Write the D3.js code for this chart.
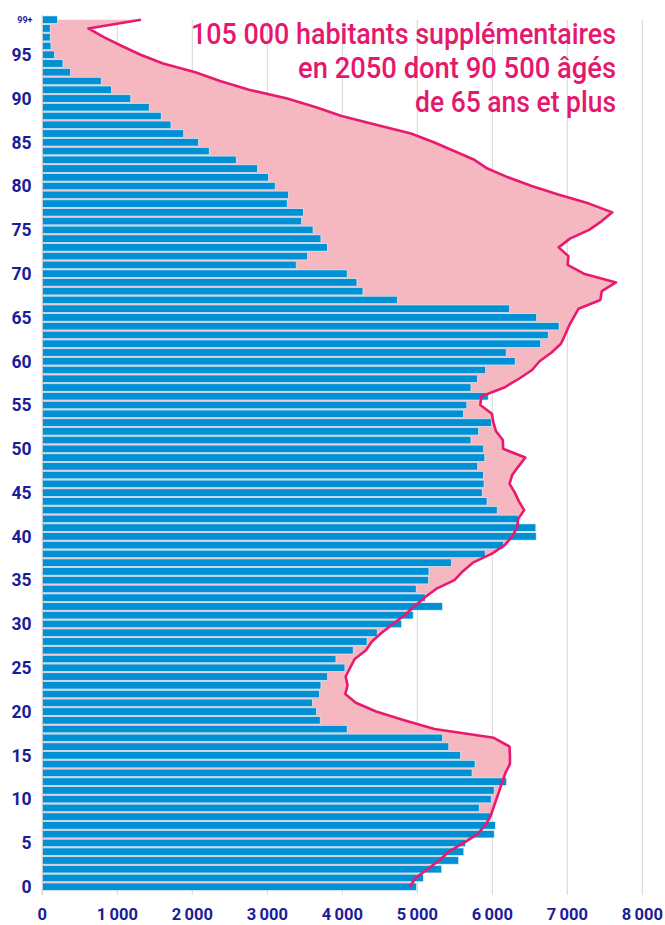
<!DOCTYPE html>
<html>
<head>
<meta charset="utf-8">
<script src="https://cdn.jsdelivr.net/npm/d3@7"></script>
<style>
  body { margin: 0; background: #fff; }
  svg { display: block; }
  text { font-family: Roboto, "Liberation Sans", sans-serif; }
</style>
</head>
<body>
<svg id="chart" width="665" height="925"></svg>
<script>
// ages 0..99 (99 = 99+)
var ages = d3.range(0, 100);

// population today (blue bars), age 0 -> 99+
var popNow = [
  4990, 5080, 5325, 5550, 5620, 5640, 6025, 6040, 5975, 5825,
  5985, 6025, 6190, 5730, 5770, 5575, 5420, 5335, 4065, 3705,
  3655, 3600, 3695, 3715, 3805, 4035, 3915, 4145, 4330, 4465,
  4790, 4945, 5335, 5105, 4985, 5150, 5155, 5455, 5905, 6150,
  6585, 6580, 6345, 6065, 5930, 5865, 5890, 5880, 5805, 5900,
  5885, 5715, 5815, 5990, 5615, 5660, 5945, 5715, 5800, 5910,
  6305, 6185, 6645, 6745, 6890, 6590, 6230, 4735, 4275, 4195,
  4065, 3385, 3535, 3800, 3715, 3610, 3455, 3480, 3265, 3280,
  3105, 3015, 2870, 2585, 2225, 2080, 1885, 1715, 1585, 1425,
  1180, 920, 785, 375, 275, 160, 115, 105, 105, 200
];

// projection 2050 (pink line), age 0 -> 99+
var pop2050 = [
  4900, 4975, 5135, 5290, 5420, 5620, 5800, 5905, 5975, 6015,
  6055, 6095, 6135, 6175, 6235, 6235, 6230, 6020, 5230, 4825,
  4450, 4180, 4040, 4070, 4045, 4105, 4165, 4315, 4395, 4525,
  4675, 4830, 4960, 5095, 5250, 5495, 5605, 5740, 5990, 6165,
  6265, 6330, 6345, 6425, 6355, 6300, 6230, 6265, 6350, 6440,
  6145, 6140, 6050, 6015, 5995, 5840, 5855, 6160, 6355, 6530,
  6630, 6790, 6915, 6970, 7020, 7085, 7150, 7440, 7460, 7650,
  7220, 7005, 7015, 6885, 7035, 7290, 7460, 7600, 7290, 6890,
  6525, 6210, 5935, 5760, 5490, 5220, 4915, 4450, 3990, 3650,
  3265, 2755, 2370, 2040, 1610, 1310, 1060, 820, 615, 1315
];

var xTicks = [0, 1000, 2000, 3000, 4000, 5000, 6000, 7000, 8000];
var yTicks = [0, 5, 10, 15, 20, 25, 30, 35, 40, 45, 50, 55, 60, 65, 70, 75, 80, 85, 90, 95];

var titleLines = ['105 000 habitants supplémentaires', 'en 2050 dont 90 500 âgés', 'de 65 ans et plus'];

var svg = d3.select('#chart');

var x = d3.scaleLinear().domain([0, 8000]).range([42.3, 642.3]);
var y = d3.scaleBand().domain(ages).range([891.1, 15.3])
  .paddingInner(0.15).paddingOuter(0.075);
var bw = y.bandwidth();
function yc(a){ return y(a) + bw / 2; }

//grid lines
svg.append('g').attr('class', 'grid')
  .selectAll('line')
  .data(xTicks.slice(1))
  .enter().append('line')
  .attr('x1', d => x(d)).attr('x2', d => x(d))
  .attr('y1', 20).attr('y2', 895)
  .attr('stroke', '#d6d6d6')
  .attr('stroke-width', 1);

//pink area up to the 2050 line
var area = d3.area()
  .x0(x(0))
  .x1((d, i) => x(pop2050[i]))
  .y((d, i) => yc(d));
svg.append('path')
  .datum(ages)
  .attr('d', area)
  .attr('fill', '#f5b8c1');

//bars
svg.append('g').attr('class', 'bars')
  .selectAll('rect')
  .data(ages)
  .enter().append('rect')
  .attr('x', x(0))
  .attr('y', d => y(d))
  .attr('width', d => x(popNow[d]) - x(0))
  .attr('height', bw)
  .attr('fill', '#0090d4')
  .attr('stroke', '#e6f3fa')
  .attr('stroke-width', 0.6);

//axis line
svg.append('line')
  .attr('x1', x(0)).attr('x2', x(0))
  .attr('y1', 15).attr('y2', 895)
  .attr('stroke', '#cfcfcf')
  .attr('stroke-width', 1.2);

//2050 line
var line = d3.line()
  .x((d, i) => x(pop2050[i]))
  .y(d => yc(d));
svg.append('path')
  .datum(ages)
  .attr('d', line)
  .attr('fill', 'none')
  .attr('stroke', '#e8196f')
  .attr('stroke-width', 2.6)
  .attr('stroke-linejoin', 'round');

//y labels
svg.append('g').attr('class', 'ylabels')
  .selectAll('text')
  .data(yTicks)
  .enter().append('text')
  .attr('x', 31.5)
  .attr('y', d => yc(d))
  .attr('dy', '0.36em')
  .attr('text-anchor', 'end')
  .attr('font-size', 17.5)
  .attr('font-weight', 'bold')
  .attr('fill', '#1c1c99')
  .text(d => d);
svg.append('text')
  .attr('x', 32.5)
  .attr('y', yc(99))
  .attr('dy', '0.36em')
  .attr('text-anchor', 'end')
  .attr('font-size', 9)
  .attr('font-weight', 'bold')
  .attr('fill', '#1c1c99')
  .text('99+');

//x labels
svg.append('g').attr('class', 'xlabels')
  .selectAll('text')
  .data(xTicks)
  .enter().append('text')
  .attr('x', d => x(d))
  .attr('y', 920)
  .attr('text-anchor', 'middle')
  .attr('font-size', 16.5)
  .attr('font-weight', 'bold')
  .attr('fill', '#1c1c99')
  .text(d => d === 0 ? '0' : d3.format(',')(d).replace(',', '\u2009'));

//title
var titleW = [425, 318, 201];
svg.append('g').attr('class', 'title')
  .selectAll('text')
  .data(titleLines)
  .enter().append('text')
  .attr('x', 616)
  .attr('y', (d, i) => 44 + i * 34)
  .attr('text-anchor', 'end')
  .attr('font-size', 30)
  .attr('font-weight', 500)
  .attr('fill', '#e5186e')
  .attr('textLength', (d, i) => titleW[i])
  .attr('lengthAdjust', 'spacingAndGlyphs')
  .text(d => d);
</script>
</body>
</html>
